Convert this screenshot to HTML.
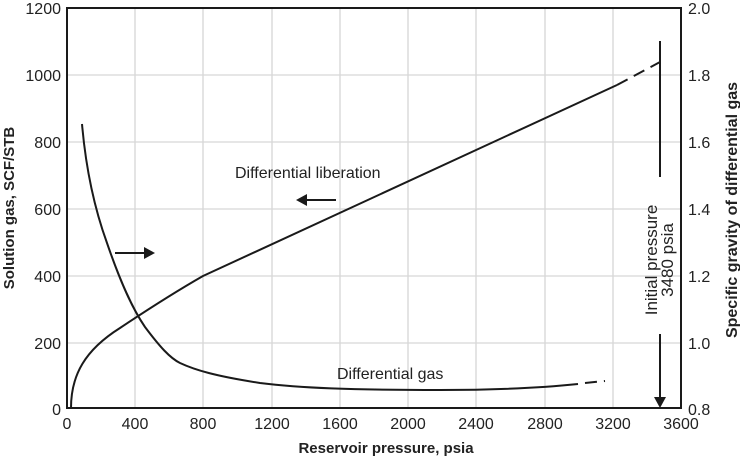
<!DOCTYPE html>
<html><head><style>body{margin:0;background:#fff}svg{display:block}text{font-family:"Liberation Sans",sans-serif;fill:#222}</style></head><body>
<svg width="740" height="458" viewBox="0 0 740 458">
<g stroke="#d6d6d6" stroke-width="1.3">
<line x1="135" y1="8" x2="135" y2="408"/><line x1="203" y1="8" x2="203" y2="408"/><line x1="272" y1="8" x2="272" y2="408"/><line x1="340" y1="8" x2="340" y2="408"/><line x1="408" y1="8" x2="408" y2="408"/><line x1="476" y1="8" x2="476" y2="408"/><line x1="545" y1="8" x2="545" y2="408"/><line x1="613" y1="8" x2="613" y2="408"/>
<line x1="67" y1="75" x2="681" y2="75"/><line x1="67" y1="142" x2="681" y2="142"/><line x1="67" y1="209" x2="681" y2="209"/><line x1="67" y1="276" x2="681" y2="276"/><line x1="67" y1="343" x2="681" y2="343"/>
</g>
<rect x="67" y="8" width="614" height="400" fill="none" stroke="#1a1a1a" stroke-width="2"/>
<g fill="none" stroke="#1a1a1a" stroke-width="2">
<path d="M71,408 C71,375 85,350 120,328 C150,308 175,292 203,276 L617,85"/>
<path d="M617,85 L660,62" stroke-dasharray="12,7"/>
<path d="M82,124 C86,170 95,210 107,243 C118,275 130,305 145,327 C160,347 170,358 180,363 C195,370 215,376 260,383 C300,388 350,390 440,390 C500,390 540,388 578,384"/>
<path d="M585,383 L605,381" stroke-dasharray="12,7"/>
<line x1="660" y1="41" x2="660" y2="177"/>
<line x1="660" y1="334" x2="660" y2="398"/>
<line x1="115" y1="253" x2="145" y2="253"/>
<line x1="306" y1="200" x2="336" y2="200"/>
</g>
<polygon points="654,397 666,397 660,408" fill="#1a1a1a"/>
<polygon points="144,247 155,253 144,259" fill="#1a1a1a"/>
<polygon points="307,194 296,200 307,206" fill="#1a1a1a"/>
<g font-size="16">
<text x="235" y="178">Differential liberation</text>
<text x="337" y="379">Differential gas</text>
</g>
<g font-size="17" text-anchor="middle">
<text transform="translate(657,260) rotate(-90)">Initial pressure</text>
<text transform="translate(673,260) rotate(-90)">3480 psia</text>
</g>
<g font-size="16" text-anchor="end">
<text x="61" y="14">1200</text><text x="61" y="81">1000</text><text x="61" y="148">800</text><text x="61" y="215">600</text><text x="61" y="282">400</text><text x="61" y="349">200</text><text x="61" y="415">0</text>
</g>
<g font-size="16">
<text x="688" y="14">2.0</text><text x="688" y="81">1.8</text><text x="688" y="148">1.6</text><text x="688" y="215">1.4</text><text x="688" y="282">1.2</text><text x="688" y="349">1.0</text><text x="688" y="415">0.8</text>
</g>
<g font-size="16" text-anchor="middle">
<text x="67" y="429">0</text><text x="135" y="429">400</text><text x="203" y="429">800</text><text x="272" y="429">1200</text><text x="340" y="429">1600</text><text x="408" y="429">2000</text><text x="476" y="429">2400</text><text x="545" y="429">2800</text><text x="613" y="429">3200</text><text x="681" y="429">3600</text>
</g>
<g font-size="15" font-weight="bold" text-anchor="middle">
<text x="386" y="453">Reservoir pressure, psia</text>
<text transform="translate(14,208) rotate(-90)">Solution gas, SCF/STB</text>
</g>
<text transform="translate(737,210) rotate(-90)" font-size="16" font-weight="bold" text-anchor="middle">Specific gravity of differential gas</text>
</svg>
</body></html>
